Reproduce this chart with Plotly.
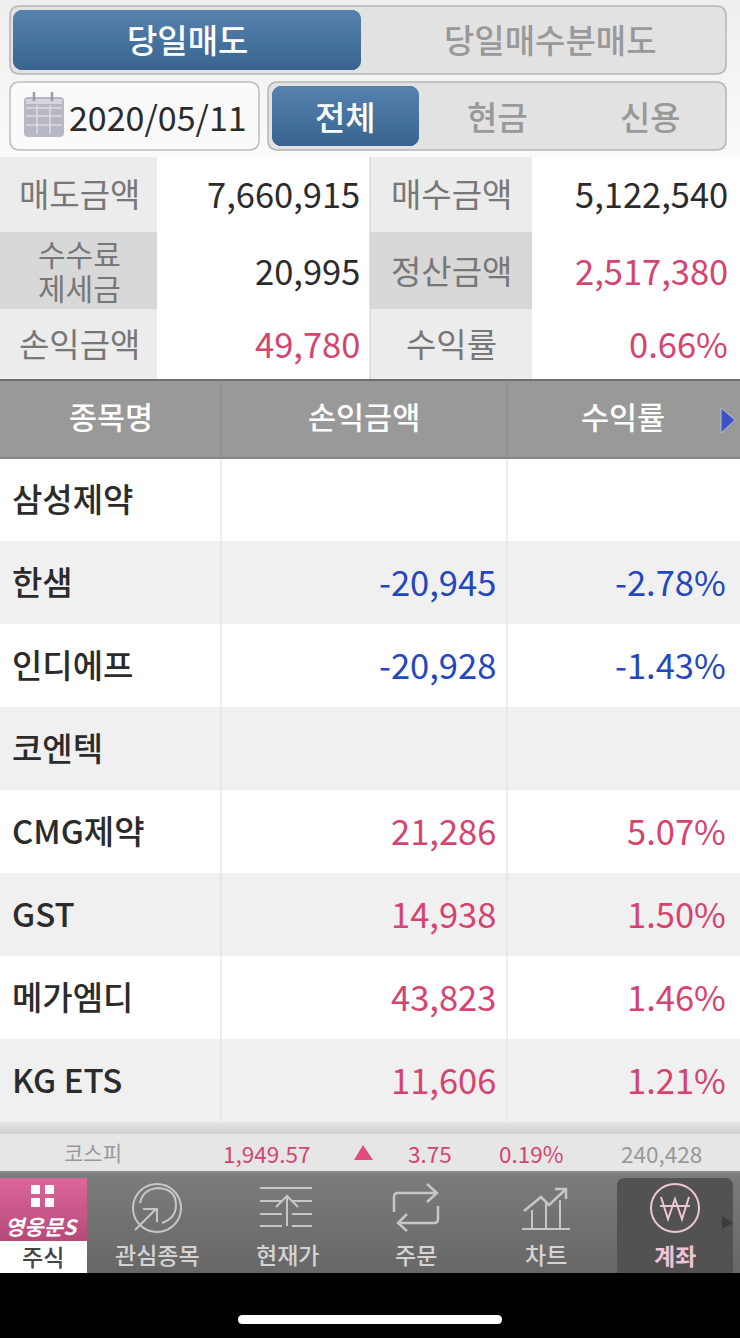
import plotly.graph_objects as go

# values
top_tabs = ["당일매도", "당일매수분매도"]
trade_date = "2020/05/11"
sub_tabs = ["전체", "현금", "신용"]

summary_left_labels = ["매도금액", "수수료<br>제세금", "손익금액"]
summary_left_values = ["7,660,915", "20,995", "49,780"]
summary_right_labels = ["매수금액", "정산금액", "수익률"]
summary_right_values = ["5,122,540", "2,517,380", "0.66%"]

table_headers = ["종목명", "손익금액", "수익률"]
stock_names = ["삼성제약", "한샘", "인디에프", "코엔텍", "CMG제약", "GST", "메가엠디", "KG ETS"]
stock_pl = ["", "-20,945", "-20,928", "", "21,286", "14,938", "43,823", "11,606"]
stock_rate = ["", "-2.78%", "-1.43%", "", "5.07%", "1.50%", "1.46%", "1.21%"]

index_name = "코스피"
index_value = "1,949.57"
index_change = "3.75"
index_rate = "0.19%"
index_volume = "240,428"

nav_labels = ["관심종목", "현재가", "주문", "차트"]
nav_centers = [157, 287, 416, 546]

FONT = "Noto Sans CJK KR"
PINK = "#d5446f"
BLUE = "#2447bd"
DARK = "#2b2b2b"
GRAY_TXT = "#999999"

shapes = []
annotations = []


def rrect_path(x0, y0, x1, y1, r):
    return (
        f"M{x0 + r},{y0} L{x1 - r},{y0} Q{x1},{y0} {x1},{y0 + r} L{x1},{y1 - r} Q{x1},{y1} {x1 - r},{y1} "
        f"L{x0 + r},{y1} Q{x0},{y1} {x0},{y1 - r} L{x0},{y0 + r} Q{x0},{y0} {x0 + r},{y0} Z"
    )


def rrect(x0, y0, x1, y1, r, fill, line=None, width=1):
    shapes.append(dict(type="path", path=rrect_path(x0, y0, x1, y1, r), fillcolor=fill,
                       line=dict(color=line or fill, width=width if line else 0)))


def rect(x0, y0, x1, y1, fill):
    shapes.append(dict(type="rect", x0=x0, y0=y0, x1=x1, y1=y1, fillcolor=fill, line=dict(width=0)))


def mix(c0, c1, t):
    a = [int(c0[i:i + 2], 16) for i in (1, 3, 5)]
    b = [int(c1[i:i + 2], 16) for i in (1, 3, 5)]
    return "rgb(%d,%d,%d)" % tuple(a[i] + (b[i] - a[i]) * t for i in range(3))


def gradient(x0, y0, x1, y1, c0, c1, r=0, step=2):
    # no gradient fill on shapes, so stack thin strips
    y = y0
    while y < y1:
        y2 = min(y + step, y1)
        d = min(y - y0, y1 - y2)
        inset = r - (r * r - (r - d - 0.5) ** 2) ** 0.5 if d < r else 0
        rect(x0 + inset, y, x1 - inset, y2, mix(c0, c1, (y - y0) / (y1 - y0)))
        y = y2


def line(x0, y0, x1, y1, color, width=1):
    shapes.append(dict(type="line", x0=x0, y0=y0, x1=x1, y1=y1, line=dict(color=color, width=width)))


def stroke(path, color, width=2, fill="rgba(0,0,0,0)"):
    shapes.append(dict(type="path", path=path, line=dict(color=color, width=width), fillcolor=fill))


def circle(cx, cy, r, color, width=2):
    shapes.append(dict(type="circle", x0=cx - r, y0=cy - r, x1=cx + r, y1=cy + r,
                       line=dict(color=color, width=width), fillcolor="rgba(0,0,0,0)"))


def text(x, y, s, size, color, anchor="center", weight=400):
    annotations.append(dict(x=x, y=y, text=s, showarrow=False, xanchor=anchor, yanchor="middle",
                            font=dict(family=FONT, size=size, color=color, weight=weight)))


def rate_color(s):
    return BLUE if s.startswith("-") else PINK


# top controls
gradient(0, 0, 740, 157, "#efefef", "#fbfbfb", step=6)
rrect(10, 6, 726, 74, 10, "#e2e2e2", "#b5b5b5", 1.5)
gradient(13, 10, 361, 70, "#5782b0", "#38648f", r=9, step=1)
text(187, 39, top_tabs[0], 33, "white", weight=500)
text(550, 39, top_tabs[1], 33, GRAY_TXT, weight=500)

rrect(10, 82, 259, 150, 10, "#fafafa", "#bdbdbd", 1.5)
# calendar icon
rrect(24, 97, 64, 137, 4, "#b6b9c4")
for gx in (37, 50):
    line(gx, 105, gx, 134, "#dcdde3", 1.5)
for gy in (108, 116, 125):
    line(26, gy, 62, gy, "#dcdde3", 1.5)
rect(26, 99, 62, 104, "#d5d6dd")
for gx in (34, 52):
    line(gx, 92, gx, 101, "#9a9da9", 2.5)
text(158, 116, trade_date, 34, DARK)

rrect(268, 82, 726, 150, 10, "#e2e2e2", "#b5b5b5", 1.5)
gradient(272, 86, 419, 146, "#5782b0", "#38648f", r=9, step=1)
text(345, 116, sub_tabs[0], 33, "white", weight=500)
text(497, 116, sub_tabs[1], 33, GRAY_TXT, weight=500)
text(650, 116, sub_tabs[2], 33, GRAY_TXT, weight=500)

# summary table
sum_rows = [(157, 232), (232, 309), (309, 379)]
for i, (y0, y1) in enumerate(sum_rows):
    label_fill = "#d8d8d8" if i == 1 else "#ececec"
    rect(0, y0, 157, y1, label_fill)
    rect(157, y0, 370, y1, "white")
    rect(370, y0, 532, y1, label_fill)
    rect(532, y0, 740, y1, "white")
    cy = (y0 + y1) / 2 - (2 if i == 0 else 1)
    left_parts = summary_left_labels[i].split("<br>")
    if len(left_parts) == 2:
        text(79, cy - 17, left_parts[0], 30, "#777777")
        text(79, cy + 17, left_parts[1], 30, "#777777")
    else:
        text(79, cy, left_parts[0], 33, "#777777")
    text(451, cy, summary_right_labels[i], 33, "#777777")
    text(361.5, cy, summary_left_values[i], 34.5, PINK if i == 2 else DARK, "right")
    text(730, cy, summary_right_values[i], 34.5, DARK if i == 0 else PINK, "right")
line(370, 157, 370, 379, "#cccccc", 1)

# stock table
rect(0, 379, 740, 459, "#999999")
line(0, 380, 740, 380, "#6f6f6f", 2)
line(0, 458, 740, 458, "#808080", 1.5)
line(221, 380, 221, 458, "#858585", 1)
line(507, 380, 507, 458, "#858585", 1)
text(111, 416, table_headers[0], 30.5, "white", weight=500)
text(364, 416, table_headers[1], 30.5, "white", weight=500)
text(623, 416, table_headers[2], 30.5, "white", weight=500)
shapes.append(dict(type="path", path="M721,408 L735,420 L721,433 Z", fillcolor="#3d50c6",
                   line=dict(color="#b8bccc", width=1)))

ROW_H = 83
for i, name in enumerate(stock_names):
    y0 = 458 + i * ROW_H
    rect(0, y0 + (1 if i == 0 else 0), 740, y0 + ROW_H, "white" if i % 2 == 0 else "#f0f0f0")
    cy = y0 + ROW_H / 2 - 2
    text(10, cy, name, 33, DARK, "left", weight=500)
    if stock_pl[i]:
        text(498, cy, stock_pl[i], 34.5, rate_color(stock_pl[i]), "right")
        text(728, cy, stock_rate[i], 34.5, rate_color(stock_rate[i]), "right")
line(221, 459, 221, 1122, "#dddddd", 1)
line(507, 459, 507, 1122, "#dddddd", 1)

# index strip
gradient(0, 1122, 740, 1134, "#e4e4e4", "#cfcfcf", step=2)
rect(0, 1134, 740, 1171, "#e6e6e6")
text(93, 1152, index_name, 21, GRAY_TXT)
text(266, 1153, index_value, 22.5, PINK)
shapes.append(dict(type="path", path="M354,1160 L363,1145 L373,1160 Z", fillcolor="#e04c7c", line=dict(width=0)))
text(430, 1153, index_change, 22.5, PINK)
text(531, 1153, index_rate, 22.5, PINK)
text(661, 1153, index_volume, 22.5, GRAY_TXT)

# nav bar
gradient(0, 1171, 740, 1273, "#7c7c7c", "#676767", step=4)
line(0, 1172, 740, 1172, "#909090", 1.5)
rrect(617, 1178, 733, 1285, 8, "#525252")
rect(617, 1273, 740, 1290, "black")
gradient(0, 1178, 87, 1241, "#dd6699", "#b44a7a", step=3)
rect(0, 1241, 87, 1273, "white")
for sx, sy in [(31, 1185), (45, 1185), (31, 1198), (45, 1198)]:
    rect(sx, sy, sx + 9, sy + 9, "white")
annotations.append(dict(x=42, y=1226, text="<i>영웅문S</i>", showarrow=False,
                        font=dict(family=FONT, size=21, color="white", weight=700)))
text(43, 1256, "주식", 23, "#444444", weight=500)

ICON = "#c6c6c6"
# 관심종목 icon
circle(157, 1208, 24, ICON)
stroke("M162,1223 Q176,1218 176,1205 Q176,1189 158,1188 Q143,1189 140,1203", ICON)
stroke("M135,1230 L156,1209 M143,1209 L157,1209 L157,1222", ICON)
# 현재가 icon
line(260, 1188, 312, 1188, ICON, 2)
for gy in (1201, 1214, 1226):
    line(260, gy, 282, gy, ICON, 2)
    line(292, gy, 312, gy, ICON, 2)
stroke("M287,1226 L287,1196 M276,1207 L287,1196 L298,1207", ICON)
# 주문 icon
stroke("M437,1193 L398,1193 Q394,1193 394,1197 L394,1212 M427,1184 L437,1193 L427,1202", ICON, 2.5)
stroke("M438,1206 L438,1219 Q438,1223 434,1223 L398,1223 M407,1214 L398,1223 L407,1231", ICON, 2.5)
# 차트 icon
stroke("M522,1229 L570,1229 M532,1229 L532,1210 M546,1229 L546,1203 M560,1229 L560,1200", ICON)
stroke("M524,1211 L541,1197 L549,1205 L566,1189 M555,1189 L566,1189 L566,1199", ICON, 2.5)
# 계좌 icon
circle(675, 1208, 24, "#ecc6d6", 2)
stroke("M661,1197 L668,1219 L675,1199 L682,1219 L689,1197 M660,1206 L690,1206", "#ecc6d6", 2)
shapes.append(dict(type="path", path="M722,1216 L733,1223 L722,1229 Z", fillcolor="#3c3c3c", line=dict(width=0)))

for label, cx in zip(nav_labels, nav_centers):
    text(cx, 1254, label, 23, "#d4d4d4", weight=500)
text(675, 1255, "계좌", 23, "#f0c4d6", weight=700)

# home indicator
rect(0, 1273, 740, 1338, "black")
rrect(238, 1315, 502, 1324, 4.5, "white")

fig = go.Figure()
fig.update_layout(
    width=740,
    height=1338,
    margin=dict(l=0, r=0, t=0, b=0),
    paper_bgcolor="white",
    plot_bgcolor="white",
    showlegend=False,
    shapes=shapes,
    annotations=annotations,
    xaxis=dict(range=[0, 740], visible=False, fixedrange=True),
    yaxis=dict(range=[1338, 0], visible=False, fixedrange=True),
)
fig.write_html("out.html", config={"displayModeBar": False}, post_script="document.body.style.margin='0';")
